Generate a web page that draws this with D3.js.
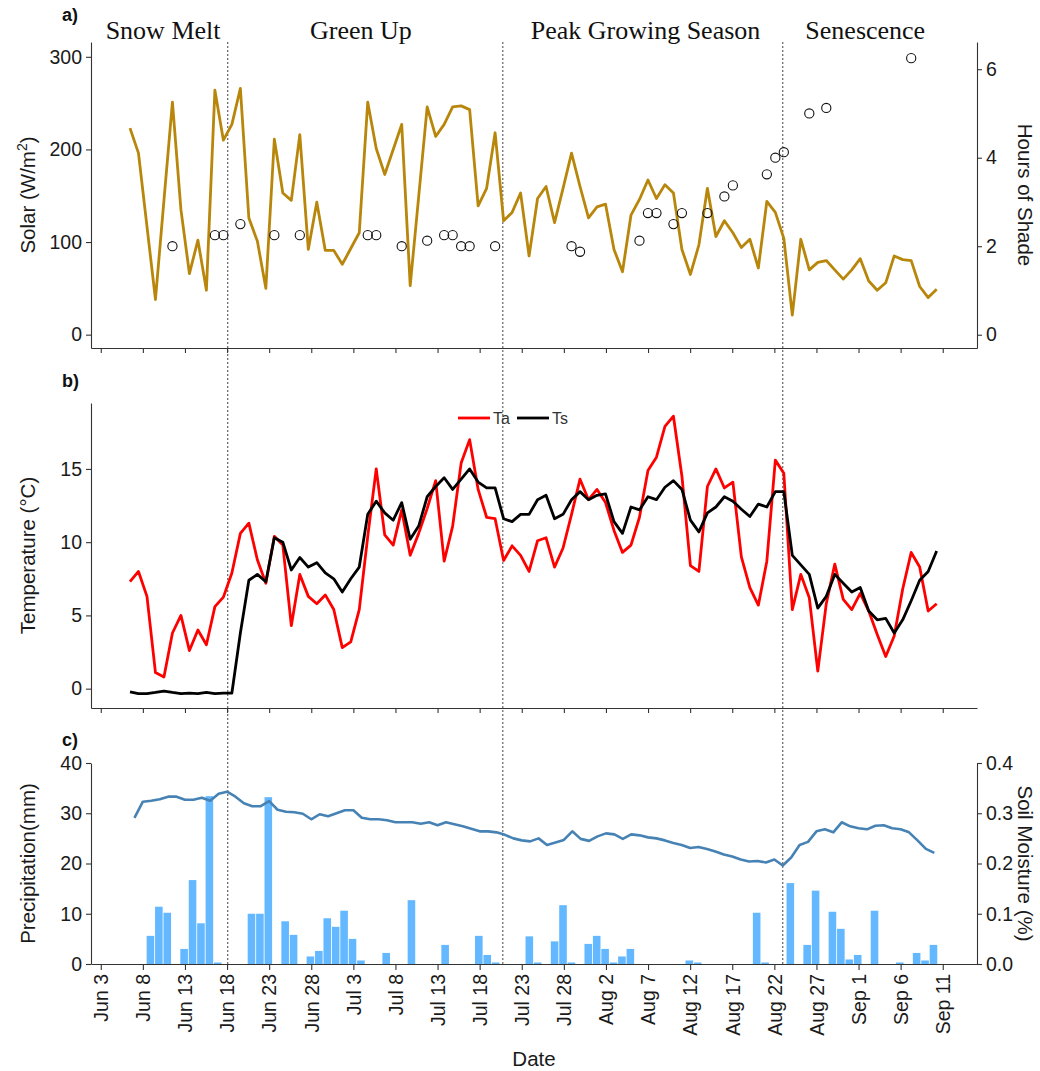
<!DOCTYPE html>
<html>
<head>
<meta charset="utf-8">
<script src="https://cdnjs.cloudflare.com/ajax/libs/d3/7.8.5/d3.min.js"></script>
<style>
  body { margin: 0; background: #fff; }
  text { font-family: "Liberation Sans", Arial, sans-serif; }
</style>
</head>
<body>
<svg id="chart" width="1040" height="1071"></svg>
<script>
// ---- data ----------------------------------------------------------------
// day numbers count from Jun 1 (day 0)
var tickDays = d3.range(2, 103, 5);   // Jun 3, Jun 8, ... Sep 11

// daily field series (solar, air temp, soil temp) - first/last day on the plot
var lineFirstDay = 5.47, lineLastDay = 101.28;

var solar = [223, 196, 117, 38, 145, 251, 135, 66, 102, 48,
  264, 210, 227, 266, 126, 101, 50, 211, 153, 145,
  216, 92, 143, 91, 91, 76, 93, 110, 251, 201,
  173, 200, 227, 53, 149, 246, 214, 227, 246, 247,
  243, 139, 158, 218, 123, 132, 153, 85, 147, 160,
  121, 158, 196, 160, 126, 138, 141, 92, 68, 129,
  146, 167, 147, 162, 153, 92, 65, 97, 158, 106,
  123, 110, 94, 103, 72, 144, 132, 104, 21, 103,
  70, 78, 80, 70, 60, 70, 82, 58, 48, 56,
  85, 81, 80, 52, 40, 49];

var airTemp = [7.3, 8.0, 6.3, 1.1, 0.8, 3.8, 5.0, 2.6, 4.0, 3.0,
  5.6, 6.25, 7.9, 10.6, 11.3, 8.8, 7.2, 10.4, 9.8, 4.3,
  7.8, 6.3, 5.8, 6.4, 5.4, 2.8, 3.2, 5.4, 10.4, 15.0,
  10.5, 9.8, 12.2, 9.1, 10.6, 12.3, 14.2, 8.7, 11.1, 15.4,
  17.0, 13.6, 11.7, 11.6, 8.75, 9.75, 9.1, 8.0, 10.1, 10.3,
  8.3, 9.6, 11.9, 14.3, 12.9, 13.6, 12.7, 10.8, 9.3, 9.8,
  11.7, 14.9, 15.8, 17.9, 18.6, 14.5, 8.4, 8.0, 13.8, 15.0,
  13.7, 14.1, 9.0, 6.9, 5.7, 8.7, 15.6, 14.7, 5.4, 7.8,
  6.2, 1.2, 5.8, 8.5, 6.1, 5.4, 6.5, 5.3, 3.7, 2.2,
  3.6, 6.8, 9.3, 8.3, 5.3, 5.8];

var soilTemp = [-0.22, -0.34, -0.34, -0.26, -0.16, -0.26, -0.34, -0.3, -0.34, -0.26,
  -0.34, -0.3, -0.3, 3.8, 7.4, 7.8, 7.3, 10.3, 10.0, 8.1,
  8.95, 8.3, 8.6, 7.9, 7.5, 6.6, 7.5, 8.3, 11.9, 12.8,
  12.0, 11.5, 12.7, 10.2, 11.1, 13.1, 13.8, 14.4, 13.6, 14.3,
  15.0, 14.1, 13.7, 13.7, 11.6, 11.4, 11.9, 11.9, 12.9, 13.2,
  11.6, 11.9, 12.9, 13.45, 12.9, 13.2, 13.3, 11.4, 10.6, 12.4,
  12.2, 13.1, 12.9, 13.75, 14.2, 13.6, 11.5, 10.7, 12.0, 12.4,
  13.1, 12.8, 12.25, 11.75, 12.6, 12.4, 13.45, 13.45, 9.1, 8.45,
  7.8, 5.5, 6.3, 7.8, 7.2, 6.6, 6.9, 5.3, 4.7, 4.8,
  3.8, 4.7, 6.0, 7.4, 8.0, 9.4];

// hours of shade, index into the daily series above
var shadeIdx = [5, 10, 11, 13, 17, 20, 28, 29, 32, 35, 37, 38, 39, 40, 43,
  52, 53, 60, 61, 62, 64, 65, 68, 70, 71, 75, 76, 77, 80, 82, 92];
var shadeHours = [2.0, 2.25, 2.25, 2.5, 2.25, 2.25, 2.25, 2.25, 2.0, 2.125, 2.25, 2.25, 2.0, 2.0, 2.0,
  2.0, 1.875, 2.125, 2.75, 2.75, 2.5, 2.75, 2.75, 3.125, 3.375, 3.625, 4.0, 4.125, 5.0, 5.125, 6.25];

// soil moisture, one value per day from Jun 7
var soilFirstDay = 6;
var soilMoisture = [0.291, 0.323, 0.325, 0.328, 0.333, 0.333, 0.327, 0.327, 0.331, 0.325,
  0.339, 0.343, 0.333, 0.320, 0.314, 0.314, 0.324, 0.307, 0.303, 0.302,
  0.299, 0.288, 0.298, 0.294, 0.300, 0.306, 0.306, 0.291, 0.288, 0.288,
  0.286, 0.282, 0.282, 0.282, 0.279, 0.282, 0.276, 0.282, 0.278, 0.274,
  0.269, 0.264, 0.264, 0.262, 0.257, 0.250, 0.246, 0.244, 0.250, 0.237,
  0.242, 0.247, 0.264, 0.249, 0.245, 0.254, 0.260, 0.258, 0.249, 0.258,
  0.256, 0.252, 0.250, 0.246, 0.241, 0.237, 0.231, 0.233, 0.229, 0.224,
  0.218, 0.214, 0.208, 0.204, 0.205, 0.202, 0.208, 0.196, 0.212, 0.237,
  0.243, 0.264, 0.268, 0.262, 0.282, 0.274, 0.270, 0.268, 0.275, 0.276,
  0.270, 0.268, 0.262, 0.246, 0.229, 0.221];

// daily precipitation (mm), days with rain only
var precipDays = [8, 9, 10, 12, 13, 14, 15, 16, 20, 21, 22, 24, 25, 27, 28, 29, 30, 31, 32, 33,
  36, 39, 43, 47, 48, 49, 53, 54, 56, 57, 58, 60, 61, 62, 63, 64, 65, 72, 73, 80,
  81, 84, 86, 87, 89, 90, 91, 92, 94, 97, 99, 100, 101];
var precipMm = [5.6, 11.4, 10.2, 3.0, 16.7, 8.1, 33.4, 0.3, 10.0, 10.0, 33.2, 8.5, 5.8, 1.5, 2.6, 9.1, 7.4, 10.6, 5.0, 0.7,
  2.2, 12.7, 3.8, 5.6, 1.8, 0.3, 5.5, 0.3, 4.5, 11.7, 0.3, 4.0, 5.6, 3.0, 0.3, 1.5, 3.0, 0.7, 0.3, 10.2,
  0.3, 16.1, 3.8, 14.6, 10.4, 7.0, 0.9, 1.8, 10.6, 0.3, 2.2, 0.7, 3.8];

// phases
var phaseNames = ["Snow Melt", "Green Up", "Peak Growing Season", "Senescence"];
var phaseLabelDays = [9.4, 32.9, 66.7, 92.8];
var phaseBreaks = [17.08, 49.75, 83.0];

// ---- helpers --------------------------------------------------------------
var t0 = Date.UTC(2015, 5, 1);
function day(n) { return new Date(t0 + n * 864e5); }

var lineStep = (lineLastDay - lineFirstDay) / (solar.length - 1);
function lineDay(i) { return day(lineFirstDay + i * lineStep); }

var svg = d3.select("#chart");
var left = 91, right = 977;
var pa = {top: 42, bottom: 348}, pb = {top: 403, bottom: 708}, pc = {top: 763, bottom: 964};

var x = d3.scaleUtc().domain([day(0.84), day(106.07)]).range([left, right]);

var ySolar = d3.scaleLinear().domain([-14.4, 316]).range([pa.bottom, pa.top]);
var yShade = d3.scaleLinear().domain([-0.3, 6.615]).range([pa.bottom, pa.top]);
var yTemp = d3.scaleLinear().domain([-1.32, 19.5]).range([pb.bottom, pb.top]);
var yPrecip = d3.scaleLinear().domain([0, 40]).range([pc.bottom, pc.top]);
var ySoil = d3.scaleLinear().domain([0, 0.4]).range([pc.bottom, pc.top]);

var axisColor = "#333", textColor = "#1a1a1a", tickFont = 19.5, titleFont = 20.5;

function styleAxis(g) {
  g.attr("font-size", null).attr("font-family", null);
  g.select(".domain").attr("stroke", axisColor).attr("stroke-width", 1.1);
  g.selectAll(".tick line").attr("stroke", axisColor).attr("stroke-width", 1.1);
  g.selectAll(".tick text").attr("fill", textColor).style("font-size", tickFont + "px");
}

var tickDates = tickDays.map(day);

// ---- phase dividers -------------------------------------------------------
svg.append("g").selectAll("line").data(phaseBreaks).join("line")
  .attr("x1", d => x(day(d))).attr("x2", d => x(day(d)))
  .attr("y1", pa.top).attr("y2", pc.bottom)
  .attr("stroke", "#555").attr("stroke-width", 1.1)
  .attr("stroke-dasharray", "2,2");

svg.append("g").selectAll("text").data(phaseNames).join("text")
  .attr("x", (d, i) => x(day(phaseLabelDays[i])))
  .attr("y", 39)
  .attr("text-anchor", "middle")
  .style("font-family", "'Liberation Serif', 'Times New Roman', serif")
  .style("font-size", "26px")
  .attr("fill", "#111")
  .text(d => d);

// ---- panel a: solar + shade ----------------------------------------------
svg.append("g").attr("transform", "translate(" + left + ",0)")
  .call(d3.axisLeft(ySolar).tickValues([0, 100, 200, 300]).tickSize(5).tickSizeOuter(0).tickPadding(4))
  .call(styleAxis);
svg.append("g").attr("transform", "translate(" + right + ",0)")
  .call(d3.axisRight(yShade).tickValues([0, 2, 4, 6]).tickFormat(d3.format("d"))
    .tickSize(5).tickSizeOuter(0).tickPadding(4))
  .call(styleAxis);
svg.append("g").attr("transform", "translate(0," + pa.bottom + ")")
  .call(d3.axisBottom(x).tickValues(tickDates).tickFormat("").tickSize(5).tickSizeOuter(0))
  .call(styleAxis);

svg.append("path").datum(solar)
  .attr("fill", "none").attr("stroke", "#B8860B").attr("stroke-width", 2.8)
  .attr("stroke-linejoin", "round")
  .attr("d", d3.line().x((d, i) => x(lineDay(i))).y(d => ySolar(d)));

svg.append("g").selectAll("circle").data(shadeHours).join("circle")
  .attr("cx", (d, i) => x(lineDay(shadeIdx[i])))
  .attr("cy", d => yShade(d))
  .attr("r", 4.6)
  .attr("fill", "none").attr("stroke", "#111").attr("stroke-width", 1.1);

// ---- panel b: temperatures -----------------------------------------------
svg.append("g").attr("transform", "translate(" + left + ",0)")
  .call(d3.axisLeft(yTemp).tickValues([0, 5, 10, 15]).tickSize(5).tickSizeOuter(0).tickPadding(4))
  .call(styleAxis);
svg.append("g").attr("transform", "translate(0," + pb.bottom + ")")
  .call(d3.axisBottom(x).tickValues(tickDates).tickFormat("").tickSize(5).tickSizeOuter(0))
  .call(styleAxis);

var tempLine = d3.line().x((d, i) => x(lineDay(i))).y(d => yTemp(d));
svg.append("path").datum(airTemp)
  .attr("fill", "none").attr("stroke", "#FF0000").attr("stroke-width", 2.8)
  .attr("stroke-linejoin", "round").attr("d", tempLine);
svg.append("path").datum(soilTemp)
  .attr("fill", "none").attr("stroke", "#000").attr("stroke-width", 2.8)
  .attr("stroke-linejoin", "round").attr("d", tempLine);

// legend
var legend = svg.append("g").attr("transform", "translate(458,418)");
[["Ta", "#FF0000"], ["Ts", "#000"]].forEach(function(s, i) {
  var g = legend.append("g").attr("transform", "translate(" + (i * 59) + ",0)");
  g.append("line").attr("x1", 0).attr("x2", 32).attr("stroke", s[1]).attr("stroke-width", 2.8);
  g.append("text").attr("x", 35).attr("dy", "0.36em")
    .style("font-size", "16px").attr("fill", "#333").text(s[0]);
});

// ---- panel c: precipitation + soil moisture ------------------------------
var barW = (x(day(1)) - x(day(0))) * 0.9;
svg.append("g").selectAll("rect").data(precipMm).join("rect")
  .attr("x", (d, i) => x(day(precipDays[i] - 0.1)) - barW / 2)
  .attr("width", barW)
  .attr("y", d => yPrecip(d))
  .attr("height", d => yPrecip(0) - yPrecip(d))
  .attr("fill", "#63B8FF");

svg.append("path").datum(soilMoisture)
  .attr("fill", "none").attr("stroke", "#4682B4").attr("stroke-width", 2.6)
  .attr("stroke-linejoin", "round")
  .attr("d", d3.line().x((d, i) => x(day(soilFirstDay + i))).y(d => ySoil(d)));

svg.append("g").attr("transform", "translate(" + left + ",0)")
  .call(d3.axisLeft(yPrecip).tickValues([0, 10, 20, 30, 40]).tickSize(5).tickSizeOuter(0).tickPadding(4))
  .call(styleAxis);
svg.append("g").attr("transform", "translate(" + right + ",0)")
  .call(d3.axisRight(ySoil).tickValues([0, 0.1, 0.2, 0.3, 0.4]).tickFormat(d3.format(".1f"))
    .tickSize(5).tickSizeOuter(0).tickPadding(4))
  .call(styleAxis);
svg.append("g").attr("transform", "translate(0," + pc.bottom + ")")
  .call(d3.axisBottom(x).tickValues(tickDates).tickFormat(d3.utcFormat("%b %-d"))
    .tickSize(6).tickSizeOuter(0))
  .call(styleAxis)
  .selectAll(".tick text")
    .attr("transform", "rotate(-90)")
    .attr("text-anchor", "end")
    .attr("x", -10).attr("y", 0).attr("dy", "0.35em");

// ---- titles ----------------------------------------------------------------
function yTitle(txt, cx, cy, rot) {
  return svg.append("text")
    .attr("transform", "translate(" + cx + "," + cy + ") rotate(" + rot + ")")
    .attr("text-anchor", "middle").attr("dy", "0.35em")
    .style("font-size", titleFont + "px").attr("fill", textColor).text(txt);
}
var st = yTitle("Solar (W/m", 28, (pa.top + pa.bottom) / 2, -90);
st.append("tspan").attr("baseline-shift", "super").style("font-size", "14px").text("2");
st.append("tspan").text(")");
yTitle("Temperature (\u00B0C)", 28, (pb.top + pb.bottom) / 2, -90);
yTitle("Precipitation(mm)", 28, (pc.top + pc.bottom) / 2, -90);
yTitle("Hours of Shade", 1025, (pa.top + pa.bottom) / 2, 90);
yTitle("Soil Moisture (%)", 1025, (pc.top + pc.bottom) / 2, 90);

svg.append("text").attr("x", (left + right) / 2).attr("y", 1066)
  .attr("text-anchor", "middle").style("font-size", titleFont + "px").attr("fill", textColor).text("Date");

[["a)", 21], ["b)", 387], ["c)", 746]].forEach(function(p) {
  svg.append("text").attr("x", 62).attr("y", p[1])
    .style("font-size", "18px").style("font-weight", "bold").attr("fill", "#111").text(p[0]);
});
</script>
</body>
</html>
